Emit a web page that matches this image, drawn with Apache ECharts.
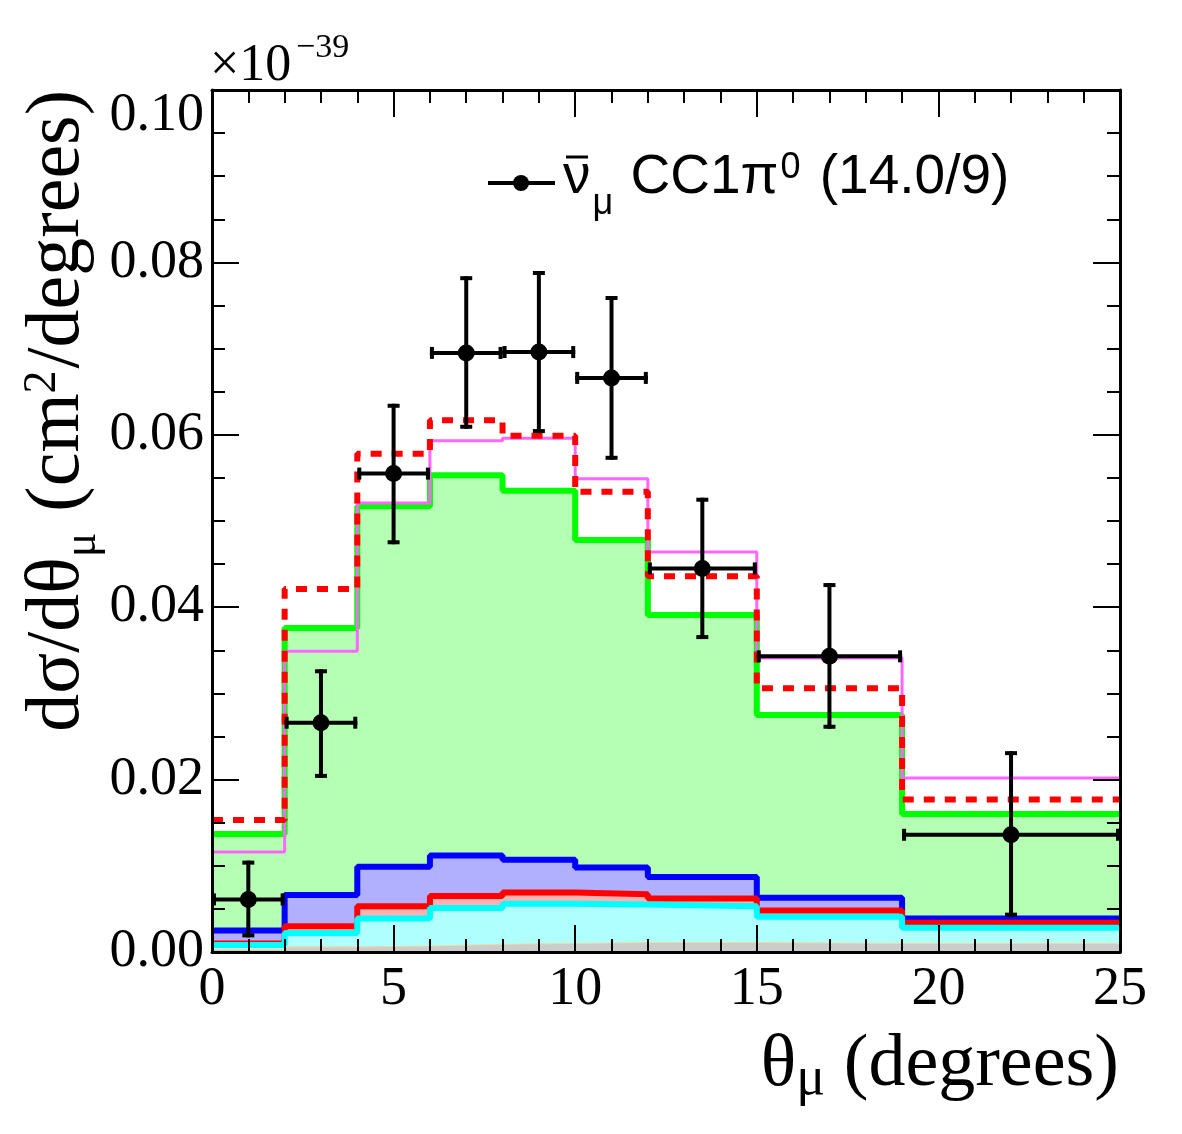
<!DOCTYPE html>
<html>
<head>
<meta charset="utf-8">
<script src="https://cdn.jsdelivr.net/npm/echarts@6/dist/echarts.min.js"></script>
<style>
  html, body { margin: 0; padding: 0; background: #fff; }
  #chart { width: 1182px; height: 1134px; }
</style>
</head>
<body>
<div id="chart"></div>
<script>
// bin edges in degrees
const binEdges = [0, 2, 4, 6, 8, 10, 12, 15, 19, 25]

// data points (x 1e-39 cm^2/degree)
const dataY = [0.0061, 0.0266, 0.0555, 0.0695, 0.0696, 0.0666, 0.0445, 0.0343, 0.0136]
const dataLow = [0.0017, 0.0202, 0.0473, 0.0607, 0.0602, 0.0571, 0.0363, 0.0259, 0.0041]
const dataHigh = [0.0106, 0.0328, 0.0636, 0.0784, 0.0790, 0.0761, 0.0527, 0.0428, 0.0233]

// model predictions
const redDashed = [0.0153, 0.0421, 0.0578, 0.0617, 0.0599, 0.0534, 0.0436, 0.0306, 0.0177]
const magenta = [0.0116, 0.0349, 0.0521, 0.0593, 0.0596, 0.0549, 0.0464, 0.0341, 0.0202]

// stacked components (cumulative heights)
const greenStack = [0.0137, 0.0376, 0.0517, 0.0553, 0.0535, 0.0478, 0.0391, 0.0275, 0.0160]
const blueStack = [0.0025, 0.0066, 0.0099, 0.0112, 0.0107, 0.0098, 0.0087, 0.0063, 0.0039]
const redStack = [0.0010, 0.0030, 0.0053, 0.0065, 0.0069, 0.0067, 0.0062, 0.0048, 0.0034]
const cyanStack = [0.0008, 0.0022, 0.0039, 0.0051, 0.0056, 0.0055, 0.0053, 0.0041, 0.0028]
const grayStack = [0.0003, 0.0006, 0.0007, 0.0009, 0.0010, 0.0011, 0.0011, 0.0010, 0.0010]

const SERIF = '"Liberation Serif", "DejaVu Serif", serif'
const SANS = '"Liberation Sans", Arial, sans-serif'

function steps(vals) {
  const pts = vals.map((v, i) => [binEdges[i], v])
  pts.push([binEdges[binEdges.length - 1], vals[vals.length - 1]])
  return pts
}

function histo(name, vals, line, fill, width, z) {
  return {
    name,
    type: 'line',
    step: 'end',
    data: steps(vals),
    showSymbol: false,
    symbol: 'none',
    z,
    lineStyle: { color: line, width },
    areaStyle: fill ? { color: fill, opacity: 1 } : undefined,
    silent: true,
    animation: false,
  }
}

const errRows = dataY.map((y, i) => [
  binEdges[i], binEdges[i + 1], (binEdges[i] + binEdges[i + 1]) / 2, y, dataLow[i], dataHigh[i],
])

const chart = echarts.init(document.getElementById('chart'))

const axisCommon = {
  type: 'value',
  axisLine: { show: true, onZero: false, lineStyle: { color: '#000', width: 3 } },
  axisTick: { show: true, inside: true, lineStyle: { color: '#000', width: 2 } },
  minorTick: { show: true, lineStyle: { color: '#000', width: 2 } },
  splitLine: { show: false },
  z: 10,
}

chart.setOption({
  animation: false,
  backgroundColor: '#fff',
  grid: { left: 212, right: 62, top: 90, bottom: 182 },
  xAxis: [
    {
      ...axisCommon, position: 'bottom', min: 0, max: 25, interval: 5,
      axisTick: { ...axisCommon.axisTick, length: 27 },
      minorTick: { ...axisCommon.minorTick, splitNumber: 5, length: 13 },
      axisLabel: { color: '#000', fontFamily: SERIF, fontSize: 54, margin: 11 },
    },
    {
      ...axisCommon, position: 'top', min: 0, max: 25, interval: 5,
      axisTick: { ...axisCommon.axisTick, length: 27 },
      minorTick: { ...axisCommon.minorTick, splitNumber: 5, length: 13 },
      axisLabel: { show: false },
    },
  ],
  yAxis: [
    {
      ...axisCommon, position: 'left', min: 0, max: 0.1, interval: 0.02,
      axisTick: { ...axisCommon.axisTick, length: 27 },
      minorTick: { ...axisCommon.minorTick, splitNumber: 4, length: 13 },
      axisLabel: {
        color: '#000', fontFamily: SERIF, fontSize: 54, margin: 8,
        formatter: v => v >= 0.099 ? '{t|' + v.toFixed(2) + '}' : v.toFixed(2),
        rich: { t: { fontFamily: SERIF, fontSize: 54, color: '#000', padding: [52, 0, 0, 0] } },
      },
    },
    {
      ...axisCommon, position: 'right', min: 0, max: 0.1, interval: 0.02,
      axisTick: { ...axisCommon.axisTick, length: 27 },
      minorTick: { ...axisCommon.minorTick, splitNumber: 4, length: 13 },
      axisLabel: { show: false },
    },
  ],
  series: [
    histo('green', greenStack, '#00ff00', '#b4ffb4', 6, 2),
    histo('blue', blueStack, '#0000ff', '#b0b0ff', 6, 3),
    histo('red', redStack, '#ff0000', '#ffb0b0', 6, 4),
    histo('cyan', cyanStack, '#00ffff', '#b0ffff', 6, 5),
    histo('gray', grayStack, '#f0dca0', '#cccccc', 1, 6),
    histo('magenta', magenta, '#ff66ff', null, 3, 7),
    { ...histo('dashed', redDashed, '#ff0000', null, 6, 8), lineStyle: { color: '#ff0000', width: 6, type: [11, 10] } },
    {
      name: 'data',
      type: 'custom',
      z: 9,
      data: errRows,
      encode: { x: [0, 1, 2], y: [3, 4, 5] },
      renderItem: (params, api) => {
        const lo = api.coord([api.value(0), api.value(3)])
        const hi = api.coord([api.value(1), api.value(3)])
        const c = api.coord([api.value(2), api.value(3)])
        const top = api.coord([api.value(2), api.value(5)])
        const bot = api.coord([api.value(2), api.value(4)])
        const st = { stroke: '#000', lineWidth: 4 }
        const cap = 6
        return {
          type: 'group',
          children: [
            { type: 'line', shape: { x1: lo[0], y1: c[1], x2: hi[0], y2: c[1] }, style: st },
            { type: 'line', shape: { x1: c[0], y1: top[1], x2: c[0], y2: bot[1] }, style: st },
            { type: 'line', shape: { x1: lo[0] + 2, y1: c[1] - cap, x2: lo[0] + 2, y2: c[1] + cap }, style: st },
            { type: 'line', shape: { x1: hi[0] - 2, y1: c[1] - cap, x2: hi[0] - 2, y2: c[1] + cap }, style: st },
            { type: 'line', shape: { x1: c[0] - cap, y1: top[1] + 2, x2: c[0] + cap, y2: top[1] + 2 }, style: st },
            { type: 'line', shape: { x1: c[0] - cap, y1: bot[1] - 2, x2: c[0] + cap, y2: bot[1] - 2 }, style: st },
            { type: 'circle', shape: { cx: c[0], cy: c[1], r: 8.5 }, style: { fill: '#000' } },
          ],
        }
      },
    },
  ],
  graphic: [
    // exponent
    { type: 'text', x: 210, y: 66, z: 20, style: { text: '×10', font: '52px ' + SERIF, fill: '#000', verticalAlign: 'middle' } },
    { type: 'text', x: 296, y: 48, z: 20, style: { text: '−39', font: '34px ' + SERIF, fill: '#000', verticalAlign: 'middle' } },
    // y title
    {
      type: 'text', x: 20, y: 90, rotation: Math.PI / 2, z: 20,
      style: {
        text: '{m|dσ/dθ}{s|μ}{m| (cm}{p|2}{m|/degrees)}',
        align: 'right', verticalAlign: 'top',
        rich: {
          m: { fontFamily: SERIF, fontSize: 76, lineHeight: 76, verticalAlign: 'top', fill: '#000' },
          s: { fontFamily: SERIF, fontSize: 46, lineHeight: 46, verticalAlign: 'top', padding: [40, 2, 0, 0], fill: '#000' },
          p: { fontFamily: SERIF, fontSize: 46, lineHeight: 16, verticalAlign: 'top', padding: [0, 2, 0, 0], fill: '#000' },
        },
      },
    },
    // x title
    {
      type: 'text', x: 1119, y: 1029, z: 20,
      style: {
        text: '{m|θ}{s|μ}{m| (degrees)}',
        align: 'right', verticalAlign: 'top',
        rich: {
          m: { fontFamily: SERIF, fontSize: 74, lineHeight: 74, verticalAlign: 'top', fill: '#000' },
          s: { fontFamily: SERIF, fontSize: 54, lineHeight: 54, verticalAlign: 'top', padding: [24, 0, 0, 0], fill: '#000' },
        },
      },
    },
    // legend
    { type: 'line', z: 20, shape: { x1: 488, y1: 183, x2: 555, y2: 183 }, style: { stroke: '#000', lineWidth: 4 } },
    { type: 'circle', z: 20, shape: { cx: 521, cy: 183, r: 8 }, style: { fill: '#000' } },
    // bar over the nu
    { type: 'line', z: 20, shape: { x1: 566, y1: 157, x2: 588, y2: 157 }, style: { stroke: '#000', lineWidth: 3 } },
    {
      type: 'text', x: 563, y: 150, z: 20,
      style: {
        text: '{m|ν}{s|μ}{m| CC1π}{p|0}{m| (14.0/9)}',
        align: 'left', verticalAlign: 'top',
        rich: {
          m: { fontFamily: SANS, fontSize: 55, lineHeight: 55, verticalAlign: 'top', fill: '#000' },
          s: { fontFamily: SANS, fontSize: 36, lineHeight: 36, verticalAlign: 'top', padding: [36, 2, 0, 2], fill: '#000' },
          p: { fontFamily: SANS, fontSize: 36, lineHeight: 20, verticalAlign: 'top', padding: [0, 4, 0, 2], fill: '#000' },
        },
      },
    },
  ],
})
</script>
</body>
</html>
